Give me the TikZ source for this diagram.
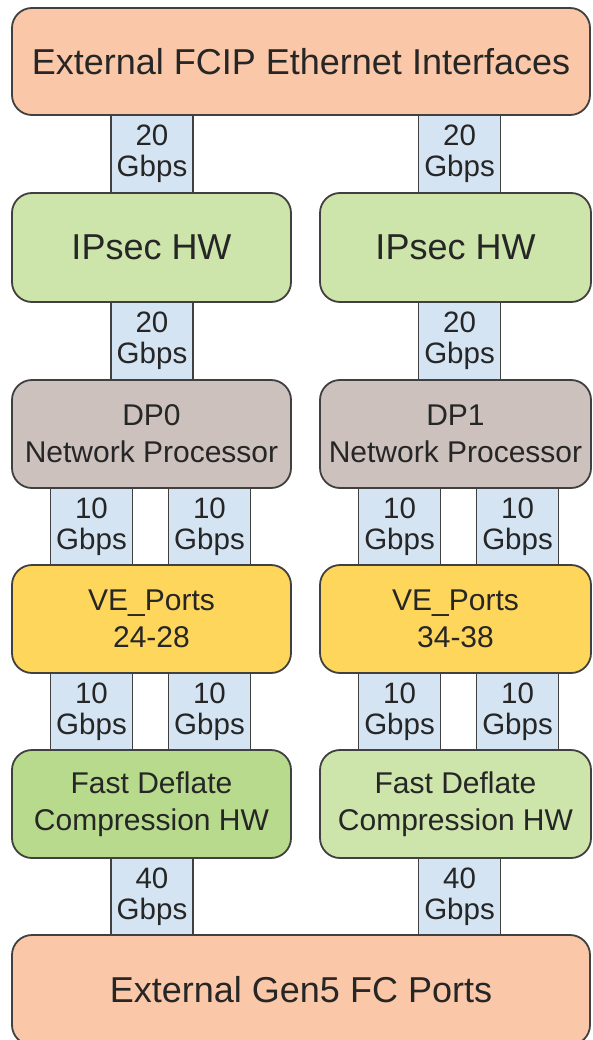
\documentclass[tikz,border=0pt]{standalone}
\usepackage{fontspec}
\setmainfont{Liberation Sans}
\definecolor{edge}{HTML}{404040}
\definecolor{txt}{HTML}{262626}
\definecolor{extorange}{HTML}{FAC8A8}
\definecolor{ipgreen}{HTML}{CDE4AA}
\definecolor{fdgreen}{HTML}{B7DA8C}
\definecolor{dpgrey}{HTML}{CDC1BE}
\definecolor{vegold}{HTML}{FED65C}
\definecolor{linkblue}{HTML}{D4E4F2}
\tikzset{
  blk/.style={draw=edge, line width=1.8pt, rounded corners=20pt, align=center,
    inner sep=0pt, text=txt},
  bigtxt/.style={font=\fontsize{36}{40}\selectfont},
  smalltxt/.style={font=\fontsize{30}{37}\selectfont},
  link/.style={draw=edge, line width=1.8pt, fill=linkblue, align=center,
    inner sep=0pt, text=txt, font=\fontsize{29.5}{31}\selectfont,
    minimum height=78pt},
  wide/.style={minimum width=82pt},
}
\begin{document}
\begin{tikzpicture}[x=1pt,y=-1pt]
\useasboundingbox (0,0) rectangle (592,1040);
\clip (0,0) rectangle (592,1040);

% bandwidth links (drawn first so the blocks sit on top)
\node[link, wide] (lA1) at (152,154)   {20\\Gbps};
\node[link, wide] (lB1) at (459.5,154) {20\\Gbps};
\node[link, wide] (lA2) at (152,341)   {20\\Gbps};
\node[link, wide] (lB2) at (459.5,341) {20\\Gbps};
\node[link, wide] (lA3) at (91.5,526.5)  {10\\Gbps};
\node[link, wide] (lA4) at (209.5,526.5) {10\\Gbps};
\node[link, wide] (lB3) at (399.5,526.5) {10\\Gbps};
\node[link, wide] (lB4) at (517.5,526.5) {10\\Gbps};
\node[link, wide] (lA5) at (91.5,711.5)  {10\\Gbps};
\node[link, wide] (lA6) at (209.5,711.5) {10\\Gbps};
\node[link, wide] (lB5) at (399.5,711.5) {10\\Gbps};
\node[link, wide] (lB6) at (517.5,711.5) {10\\Gbps};
\node[link, wide] (lA7) at (152,896.5)   {40\\Gbps};
\node[link, wide] (lB7) at (459.5,896.5) {40\\Gbps};

% external interfaces
\node[blk, bigtxt, fill=extorange, minimum width=578pt, minimum height=107pt]
  (eth) at (301,61.5) {External FCIP Ethernet Interfaces};
\node[blk, bigtxt, fill=extorange, minimum width=578pt, minimum height=110pt]
  (fc) at (301,990) {External Gen5 FC Ports};

% IPsec engines
\node[blk, bigtxt, fill=ipgreen, minimum width=279pt, minimum height=109pt]
  (ipA) at (151.5,247.5) {IPsec HW};
\node[blk, bigtxt, fill=ipgreen, minimum width=271pt, minimum height=109pt]
  (ipB) at (455.5,247.5) {IPsec HW};

% data processors
\node[blk, smalltxt, fill=dpgrey, minimum width=279pt, minimum height=108pt]
  (dpA) at (151.5,434) {DP0\\Network Processor};
\node[blk, smalltxt, fill=dpgrey, minimum width=271pt, minimum height=108pt]
  (dpB) at (455.5,434) {DP1\\Network Processor};

% VE ports
\node[blk, smalltxt, fill=vegold, minimum width=279pt, minimum height=108pt]
  (veA) at (151.5,619) {VE\_Ports\\24-28};
\node[blk, smalltxt, fill=vegold, minimum width=271pt, minimum height=108pt]
  (veB) at (455.5,619) {VE\_Ports\\34-38};

% compression engines
\node[blk, smalltxt, fill=fdgreen, minimum width=279pt, minimum height=108pt]
  (fdA) at (151.5,804) {Fast Deflate\\Compression HW};
\node[blk, smalltxt, fill=ipgreen, minimum width=271pt, minimum height=108pt]
  (fdB) at (455.5,804) {Fast Deflate\\Compression HW};
\end{tikzpicture}
\end{document}
